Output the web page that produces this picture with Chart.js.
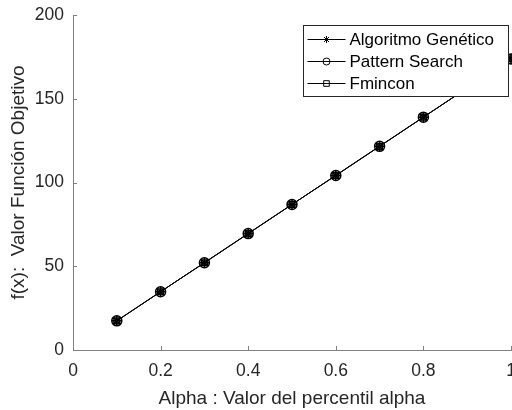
<!DOCTYPE html>
<html>
<head>
<meta charset="utf-8">
<script src="https://cdn.jsdelivr.net/npm/chart.js@4.4.1/dist/chart.umd.min.js"></script>
<style>
  html, body { margin: 0; padding: 0; background: #ffffff; }
  #wrap { width: 512px; height: 410px; }
</style>
</head>
<body>
<div id="wrap"><canvas id="chart" width="512" height="410"></canvas></div>
<script>
const alphaValues = [0.1, 0.2, 0.3, 0.4, 0.5, 0.6, 0.7, 0.8, 0.9, 1.0];
const geneticValues = [17.4, 34.8, 52.1, 69.5, 86.9, 104.2, 121.6, 139.0, 156.4, 173.8];
const patternValues = [17.4, 34.8, 52.1, 69.5, 86.9, 104.2, 121.6, 139.0, 156.4, 173.8];
const fminconValues = [17.4, 34.8, 52.1, 69.5, 86.9, 104.2, 121.6, 139.0, 156.4, 173.8];
const seriesLabels = ["Algoritmo Genético", "Pattern Search", "Fmincon"];
const xTicks = [0, 0.2, 0.4, 0.6, 0.8, 1];
const yTicks = [0, 50, 100, 150, 200];

const FONT = "'Liberation Sans', Arial, sans-serif";
const axisGray = "#808080";
const labelGray = "#262626";

function toPoints(values) {
  return alphaValues.map((x, i) => ({ x, y: values[i] }));
}

function drawMarker(ctx, style, x, y, r) {
  ctx.beginPath();
  if (style === "circle") {
    ctx.arc(x, y, r, 0, Math.PI * 2);
  } else if (style === "rect") {
    ctx.rect(x - r * 0.8, y - r * 0.8, r * 1.6, r * 1.6);
  } else {
    for (let k = 0; k < 4; k++) {
      const a = (k * Math.PI) / 4;
      ctx.moveTo(x - Math.cos(a) * r, y - Math.sin(a) * r);
      ctx.lineTo(x + Math.cos(a) * r, y + Math.sin(a) * r);
    }
  }
  ctx.stroke();
}

// matlab style ticks pointing into the plot
const inwardTicks = {
  id: "inwardTicks",
  afterDraw(chart) {
    const { ctx, chartArea, scales } = chart;
    ctx.save();
    ctx.strokeStyle = axisGray;
    ctx.lineWidth = 1;
    xTicks.forEach((v) => {
      const px = Math.round(scales.x.getPixelForValue(v)) + 0.5;
      ctx.beginPath();
      ctx.moveTo(px, chartArea.bottom);
      ctx.lineTo(px, chartArea.bottom - 4);
      ctx.stroke();
    });
    yTicks.forEach((v) => {
      const py = Math.round(scales.y.getPixelForValue(v)) + 0.5;
      ctx.beginPath();
      ctx.moveTo(chartArea.left, py);
      ctx.lineTo(chartArea.left + 4, py);
      ctx.stroke();
    });
    ctx.restore();
  },
};

const boxLegend = {
  id: "boxLegend",
  afterDraw(chart) {
    const { ctx } = chart;
    const left = 303.5, top = 25.5, width = 205, height = 71;
    ctx.save();
    ctx.fillStyle = "#ffffff";
    ctx.fillRect(left, top, width, height);
    ctx.strokeStyle = "#262626";
    ctx.lineWidth = 1;
    ctx.strokeRect(left, top, width, height);
    const styles = ["star", "circle", "rect"];
    seriesLabels.forEach((label, i) => {
      const y = top + 14 + i * 22;
      ctx.strokeStyle = "#000000";
      ctx.lineWidth = 1;
      ctx.beginPath();
      ctx.moveTo(left + 4, y);
      ctx.lineTo(left + 42, y);
      ctx.stroke();
      drawMarker(ctx, styles[i], left + 23, y, 3.5);
      ctx.fillStyle = "#000000";
      ctx.font = "17px " + FONT;
      ctx.textBaseline = "middle";
      ctx.textAlign = "left";
      ctx.fillText(label, left + 46, y + 1);
    });
    ctx.restore();
  },
};

const lineStyle = {
  borderColor: "#000000",
  backgroundColor: "rgba(0,0,0,0)",
  pointBorderColor: "#000000",
  pointBackgroundColor: "rgba(0,0,0,0)",
  borderWidth: 1,
  pointBorderWidth: 1.5,
  showLine: true,
  pointRadius: 5,
};

new Chart(document.getElementById("chart"), {
  type: "scatter",
  data: {
    datasets: [
      { label: seriesLabels[0], data: toPoints(geneticValues), pointStyle: "star", ...lineStyle },
      { label: seriesLabels[1], data: toPoints(patternValues), pointStyle: "circle", ...lineStyle },
      { label: seriesLabels[2], data: toPoints(fminconValues), pointStyle: "rect", ...lineStyle, pointRadius: 4 },
    ],
  },
  plugins: [inwardTicks, boxLegend],
  options: {
    responsive: false,
    animation: false,
    clip: false,
    layout: { autoPadding: false, padding: { top: 15, right: 1, left: 0, bottom: 0 } },
    plugins: {
      legend: { display: false },
      tooltip: { enabled: false },
    },
    scales: {
      x: {
        type: "linear",
        min: 0,
        max: 1,
        afterBuildTicks: (scale) => {
          scale.ticks = xTicks.map((v) => ({ value: v }));
        },
        afterFit: (scale) => {
          scale.height = 60;
          scale.paddingRight = 0;
        },
        grid: { display: false, drawTicks: false },
        border: { display: true, color: axisGray, width: 1 },
        ticks: {
          color: labelGray,
          font: { family: FONT, size: 17.5 },
          padding: 11,
          maxRotation: 0,
          callback: (v) => String(v),
        },
        title: {
          display: true,
          text: "Alpha : Valor del percentil alpha",
          color: labelGray,
          font: { family: FONT, size: 19 },
          padding: { top: 0, bottom: 0 },
        },
      },
      y: {
        min: 0,
        max: 200,
        afterBuildTicks: (scale) => {
          scale.ticks = yTicks.map((v) => ({ value: v }));
        },
        afterFit: (scale) => {
          scale.width = 73;
          scale.paddingTop = 0;
        },
        grid: { display: false, drawTicks: false },
        border: { display: true, color: axisGray, width: 1 },
        ticks: {
          color: labelGray,
          font: { family: FONT, size: 17.5 },
          padding: 9,
        },
        title: {
          display: true,
          text: "f(x):  Valor Función Objetivo",
          color: labelGray,
          font: { family: FONT, size: 19 },
          padding: { top: 7, bottom: 0 },
        },
      },
    },
  },
});
</script>
</body>
</html>
